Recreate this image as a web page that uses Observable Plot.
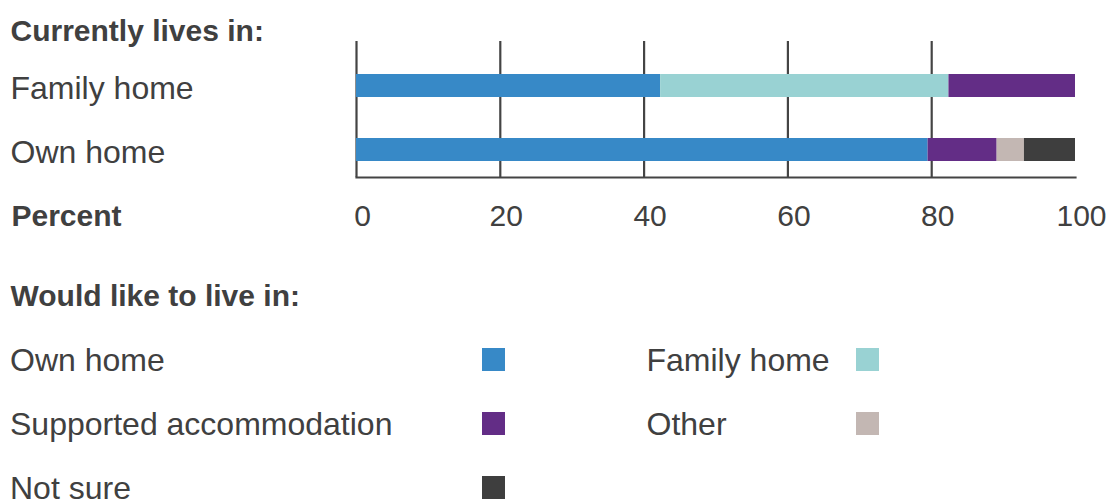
<!DOCTYPE html>
<html>
<head>
<meta charset="utf-8">
<script src="https://cdn.jsdelivr.net/npm/d3@7"></script>
<script src="https://cdn.jsdelivr.net/npm/@observablehq/plot@0.6"></script>
<style>
  html, body { margin: 0; padding: 0; background: #fff; }
  #wrap { position: relative; width: 1110px; height: 499px; overflow: hidden;
          font-family: "Liberation Sans", Arial, sans-serif; color: #404040; }
  #wrap svg { position: absolute; left: 0; top: 0; }
  .t { position: absolute; white-space: nowrap; line-height: 1; }
  .h { font-weight: bold; font-size: 30px; }
  .r { font-size: 32px; }
  .sw { position: absolute; width: 23px; height: 23px; }
</style>
</head>
<body>
<div id="wrap"></div>
<script>
// Where people currently live (rows) and where they would like to live (stack segments)
const residences = ["Family home", "Own home"];
const preferences = ["Own home", "Family home", "Supported accommodation", "Other", "Not sure"];
const preferenceColors = ["#3789c7", "#99d2d3", "#632d86", "#c3b7b3", "#3e3e3e"];

// Percent of each group, in the order of `preferences`
const familyHomeShares = [42.3, 40.1, 17.6, 0, 0];
const ownHomeShares = [79.5, 0, 9.6, 3.8, 7.1];

const xTicks = [0, 20, 40, 60, 80, 100];
const gridTicks = [0, 20, 40, 60, 80];

const rows = [];
[familyHomeShares, ownHomeShares].forEach((shares, i) => {
  shares.forEach((v, j) => {
    if (v > 0) rows.push({residence: residences[i], preference: preferences[j], value: v});
  });
});

const ink = "#404040";
const wrap = document.getElementById("wrap");

const chart = Plot.plot({
  width: 1110,
  height: 240,
  marginLeft: 356,
  marginRight: 35,
  marginTop: 58,
  marginBottom: 63,
  style: {fontFamily: "'Liberation Sans', Arial, sans-serif", color: ink, background: "transparent"},
  x: {domain: [0, 100]},
  y: {domain: residences, paddingInner: 0.645, paddingOuter: 0.25},
  color: {domain: preferences, range: preferenceColors},
  marks: [
    Plot.ruleX(gridTicks, {stroke: "#444", strokeWidth: 2.2, insetTop: -17}),
    Plot.barX(rows, Plot.stackX({x: "value", y: "residence", fill: "preference", order: preferences})),
    Plot.frame({anchor: "bottom", stroke: "#444", strokeWidth: 2.2}),
    Plot.axisX({ticks: xTicks, tickSize: 0, tickPadding: 27, dx: 6, fontSize: 30, fill: ink, label: null}),
    Plot.axisY({tickSize: 0, tickPadding: 0, textAnchor: "start", dx: -346, dy: 3, fontSize: 32, fill: ink, label: null}),
    Plot.text(["Percent"], {frameAnchor: "bottom-left", dx: -345, dy: 27, textAnchor: "start", lineAnchor: "top",
      fontSize: 30, fontWeight: "bold", fill: ink})
  ]
});
wrap.appendChild(chart);

function addText(str, cls, left, top) {
  const d = document.createElement("div");
  d.className = "t " + cls;
  d.textContent = str;
  d.style.left = left + "px";
  d.style.top = top + "px";
  wrap.appendChild(d);
}

addText("Currently lives in:", "h", 10.5, 16.3);
addText("Would like to live in:", "h", 10.5, 280.6);

// Legend: two columns, label on the left, swatch on the right
const legendCols = [{text: 10, swatch: 482}, {text: 646.5, swatch: 856}];
preferences.forEach((p, i) => {
  const col = legendCols[i % 2];
  const row = Math.floor(i / 2);
  addText(p, "r", col.text, 343.6 + row * 64);
  const s = document.createElement("div");
  s.className = "sw";
  s.style.left = col.swatch + "px";
  s.style.top = (347.7 + row * 64) + "px";
  s.style.background = preferenceColors[i];
  wrap.appendChild(s);
});
</script>
</body>
</html>
